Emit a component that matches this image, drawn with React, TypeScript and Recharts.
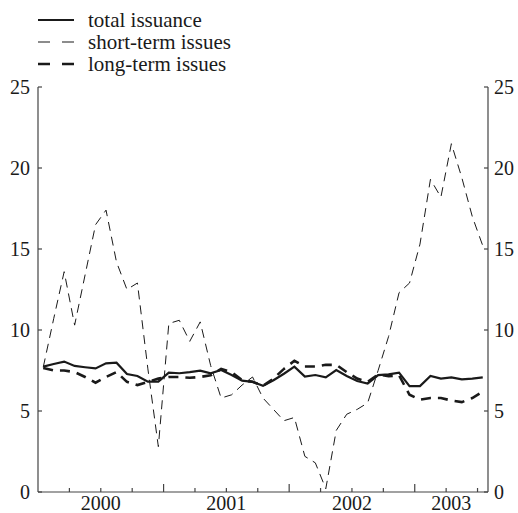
import { LineChart, Line, XAxis, YAxis } from 'recharts'

// monthly observations, Jan 2000 .. Jul 2003
const total = [
  7.74, 7.9, 8.05, 7.78, 7.7, 7.63, 7.94, 7.98, 7.28, 7.16, 6.81, 6.81,
  7.37, 7.33, 7.4, 7.49, 7.33, 7.53, 7.22, 6.87, 6.8, 6.55, 6.9, 7.3,
  7.74, 7.12, 7.22, 7.08, 7.53, 7.16, 6.85, 6.7, 7.22, 7.26, 7.37, 6.54,
  6.54, 7.16, 7.0, 7.08, 6.95, 7.0, 7.08,
]
const shortTerm = [
  7.7, 10.7, 13.6, 10.3, 13.4, 16.5, 17.4, 14.2, 12.5, 12.9, 7.6, 2.8,
  10.4, 10.6, 9.3, 10.5, 7.8, 5.8, 6.0, 6.6, 7.1, 5.8, 5.1, 4.4,
  4.6, 2.2, 1.8, 0.2, 3.8, 4.8, 5.1, 5.5, 7.5, 9.6, 12.3, 12.9,
  15.3, 19.3, 18.2, 21.5, 19.4, 17.0, 15.2,
]
const longTerm = [
  7.65, 7.5, 7.5, 7.4, 7.1, 6.75, 7.1, 7.4, 6.8, 6.6, 6.8, 7.0,
  7.1, 7.1, 7.05, 7.1, 7.2, 7.6, 7.4, 6.9, 6.8, 6.55, 7.0, 7.6,
  8.1, 7.75, 7.75, 7.85, 7.85, 7.4, 7.0, 6.8, 7.25, 7.15, 7.2, 6.0,
  5.7, 5.8, 5.8, 5.65, 5.55, 5.8, 6.2,
]
const years = ['2000', '2001', '2002', '2003']
const yTicks = [0, 5, 10, 15, 20, 25]

const X_MAX = total.length

const data = total.map((v, i) => ({
  t: i + 0.5,
  total: v,
  short: shortTerm[i],
  long: longTerm[i],
}))

// quarter tick marks, plus one label per year in the middle of its visible part
const quarterTicks = Array.from({ length: Math.floor(X_MAX / 3) + 1 }, (_, i) => i * 3).filter(
  (t) => t > 0 && t < X_MAX,
)
const yearPos = years.map((_, k) => (k * 12 + Math.min(k * 12 + 12, X_MAX)) / 2)
const xTicks = Array.from(new Set([...quarterTicks, ...yearPos])).sort((a, b) => a - b)

const FONT = '"Liberation Serif", "DejaVu Serif", serif'
const AXIS = '#444'
const INK = '#1a1a1a'

const series = [
  { key: 'total', name: 'total issuance', width: 2.2, dash: undefined, legendDash: undefined, axis: 'left' },
  { key: 'short', name: 'short-term issues', width: 1, dash: '9 6', legendDash: '12 12', axis: 'right' },
  { key: 'long', name: 'long-term issues', width: 2.6, dash: '10 7', legendDash: '12 12', axis: 'left' },
]

function XTick(props: any) {
  const { x, y, payload } = props
  const v = payload.value
  const yearIdx = yearPos.indexOf(v)
  const isQuarter = v % 3 === 0
  const len = v % 12 === 0 ? 8 : 4
  return (
    <g>
      {isQuarter && <line x1={x} x2={x} y1={y} y2={y - len} stroke={AXIS} strokeWidth={1.2} />}
      {yearIdx >= 0 && (
        <text x={x} y={y + 18} textAnchor="middle" fontFamily={FONT} fontSize={20} fill={INK}>
          {years[yearIdx]}
        </text>
      )}
    </g>
  )
}

function LeftTick(props: any) {
  const { x, y, payload } = props
  return (
    <g>
      <line x1={x} x2={x + 4} y1={y} y2={y} stroke={AXIS} strokeWidth={1.2} />
      <text x={x - 8} y={y + 7} textAnchor="end" fontFamily={FONT} fontSize={20} fill={INK}>
        {payload.value}
      </text>
    </g>
  )
}

function RightTick(props: any) {
  const { x, y, payload } = props
  return (
    <g>
      <line x1={x} x2={x - 4} y1={y} y2={y} stroke={AXIS} strokeWidth={1.2} />
      <text x={x + 6} y={y + 7} textAnchor="start" fontFamily={FONT} fontSize={20} fill={INK}>
        {payload.value}
      </text>
    </g>
  )
}

function LegendBox() {
  return (
    <svg width={260} height={80} style={{ position: 'absolute', left: 0, top: 0 }}>
      {series.map((s, i) => (
        <g key={s.key}>
          <line
            x1={38}
            x2={74}
            y1={20 + i * 22}
            y2={20 + i * 22}
            stroke={INK}
            strokeWidth={s.width === 1 ? 1.2 : s.width}
            strokeDasharray={s.legendDash}
          />
          <text x={88} y={27 + i * 22} fontFamily={FONT} fontSize={21} fill={INK}>
            {s.name}
          </text>
        </g>
      ))}
    </svg>
  )
}

export default function App() {
  return (
    <div style={{ position: 'absolute', left: 0, top: 0, width: 518, height: 513, background: '#fff' }}>
      <LineChart width={518} height={513} data={data} margin={{ top: 87, right: 0, bottom: 0, left: 0 }}>
        <XAxis
          dataKey="t"
          type="number"
          domain={[0, X_MAX]}
          ticks={xTicks}
          tick={<XTick />}
          tickLine={false}
          tickSize={0}
          tickMargin={0}
          axisLine={{ stroke: AXIS, strokeWidth: 1.2 }}
          height={21}
          interval={0}
        />
        <YAxis
          yAxisId="left"
          domain={[0, 25]}
          ticks={yTicks}
          width={38}
          tick={<LeftTick />}
          tickLine={false}
          tickSize={0}
          tickMargin={0}
          axisLine={{ stroke: AXIS, strokeWidth: 1.2 }}
          interval={0}
        />
        <YAxis
          yAxisId="right"
          orientation="right"
          domain={[0, 25]}
          ticks={yTicks}
          width={30}
          tick={<RightTick />}
          tickLine={false}
          tickSize={0}
          tickMargin={0}
          axisLine={{ stroke: AXIS, strokeWidth: 1.2 }}
          interval={0}
        />
        {series.map((s) => (
          <Line
            key={s.key}
            yAxisId={s.axis}
            dataKey={s.key}
            name={s.name}
            type="linear"
            stroke={INK}
            strokeWidth={s.width}
            strokeDasharray={s.dash}
            dot={false}
            isAnimationActive={false}
          />
        ))}
      </LineChart>
      <LegendBox />
    </div>
  )
}
